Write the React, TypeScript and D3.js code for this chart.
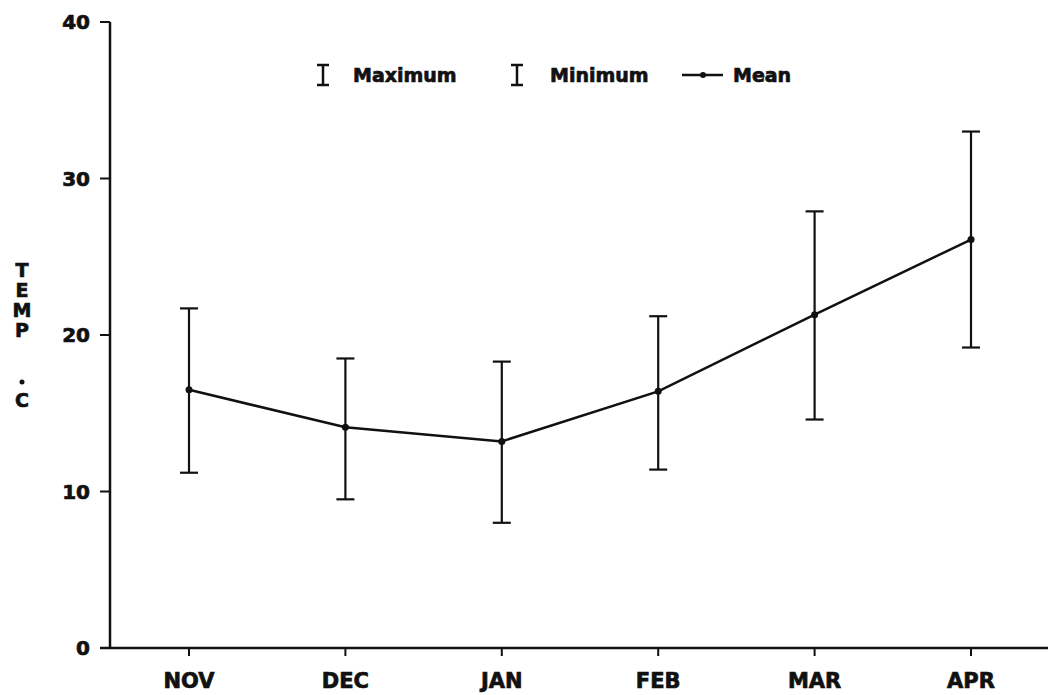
import React from 'react';
import * as d3 from 'd3';

// monthly temperature, deg C
const months = ['NOV', 'DEC', 'JAN', 'FEB', 'MAR', 'APR'];
const maxTemp = [21.7, 18.5, 18.3, 21.2, 27.9, 33.0];
const minTemp = [11.2, 9.5, 8.0, 11.4, 14.6, 19.2];
const meanTemp = [16.5, 14.1, 13.2, 16.4, 21.3, 26.1];
const yTicks = [0, 10, 20, 30, 40];
const yLabel = ['T', 'E', 'M', 'P'];

const W = 1048;
const H = 695;
const FONT = '"DejaVu Sans", "Liberation Sans", Arial, sans-serif';
const INK = '#111';

export default function App() {
  const x = d3.scalePoint<string>().domain(months).range([189, 971]);
  const y = d3.scaleLinear().domain([0, 40]).range([648, 22]);

  const rows = months.map((m, i) => ({ m, max: maxTemp[i], min: minTemp[i], mean: meanTemp[i] }));
  const line = d3.line<typeof rows[0]>()
    .x(d => x(d.m)!)
    .y(d => y(d.mean));

  const capW = 9;
  const axisX = 110;
  const axisY = y(0);

  // text is drawn a bit heavier, like the old plotter lettering
  const txt = { fill: INK, stroke: INK, strokeWidth: 0.7 };

  return (
    <svg width={W} height={H} style={{ position: 'absolute', left: 0, top: 0, background: '#fff' }}
      fontFamily={FONT} fontWeight="bold">
      {/* axes */}
      <line x1={axisX} x2={axisX} y1={axisY} y2={y(40)} stroke={INK} strokeWidth={2.5} />
      <line x1={100} x2={W} y1={axisY} y2={axisY} stroke={INK} strokeWidth={2.5} />
      {yTicks.map(t => (
        <g key={t}>
          <line x1={100} x2={axisX} y1={y(t)} y2={y(t)} stroke={INK} strokeWidth={2} />
          <text x={90} y={y(t)} dy="0.36em" textAnchor="end" fontSize={20} {...txt}>{t}</text>
        </g>
      ))}
      {months.map(m => (
        <g key={m}>
          <line x1={x(m)} x2={x(m)} y1={axisY} y2={axisY + 8} stroke={INK} strokeWidth={2} />
          <text x={x(m)} y={688} textAnchor="middle" fontSize={21} {...txt}>{m}</text>
        </g>
      ))}

      {/* y label stacked */}
      {yLabel.map((c, i) => (
        <text key={c} x={22} y={277 + i * 20} textAnchor="middle" fontSize={19} {...txt}>{c}</text>
      ))}
      <circle cx={22} cy={382} r={2.5} fill={INK} />
      <text x={22} y={407} textAnchor="middle" fontSize={19} {...txt}>C</text>

      {/* error bars */}
      {rows.map(d => {
        const cx = x(d.m)!;
        return (
          <g key={d.m} stroke={INK} strokeWidth={2.2}>
            <line x1={cx} x2={cx} y1={y(d.max)} y2={y(d.min)} />
            <line x1={cx - capW} x2={cx + capW} y1={y(d.max)} y2={y(d.max)} />
            <line x1={cx - capW} x2={cx + capW} y1={y(d.min)} y2={y(d.min)} />
          </g>
        );
      })}

      {/* mean line */}
      <path d={line(rows) || ''} fill="none" stroke={INK} strokeWidth={2.5} />
      {rows.map(d => (
        <circle key={d.m} cx={x(d.m)} cy={y(d.mean)} r={3.5} fill={INK} />
      ))}

      {/* legend */}
      <g stroke={INK} strokeWidth={2.5}>
        <line x1={323} x2={323} y1={65} y2={85} />
        <line x1={317} x2={329} y1={65} y2={65} />
        <line x1={317} x2={329} y1={85} y2={85} />
        <line x1={517} x2={517} y1={65} y2={85} />
        <line x1={511} x2={523} y1={65} y2={65} />
        <line x1={511} x2={523} y1={85} y2={85} />
        <line x1={682} x2={723} y1={75} y2={75} />
      </g>
      <circle cx={703} cy={75} r={3} fill={INK} />
      <text x={353} y={82} fontSize={19} {...txt}>Maximum</text>
      <text x={550} y={82} fontSize={19} {...txt}>Minimum</text>
      <text x={733} y={82} fontSize={19} {...txt}>Mean</text>
    </svg>
  );
}
